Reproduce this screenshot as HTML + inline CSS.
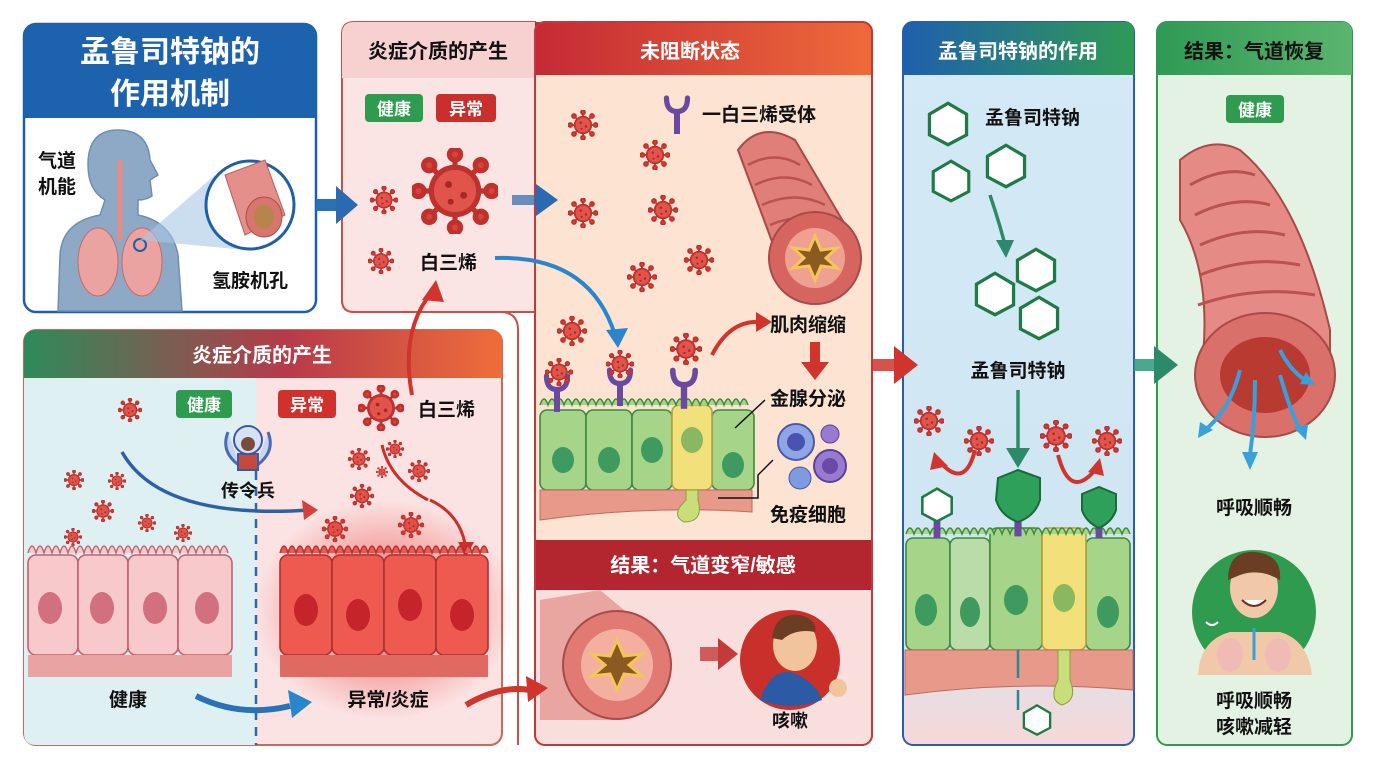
<!DOCTYPE html>
<html><head><meta charset="utf-8"><style>
html,body{margin:0;padding:0;background:#fff;}
svg{display:block;}
text{font-family:"Liberation Sans","Noto Sans CJK SC",sans-serif;font-weight:bold;}
</style></head><body>
<svg width="1376" height="768" viewBox="0 0 1376 768" xmlns="http://www.w3.org/2000/svg">
<defs>
<symbol id="v" viewBox="-20 -20 40 40">
<g stroke="#c0302c" stroke-width="2.4" fill="#d9433d">
<line x1="0" y1="-17" x2="0" y2="17"/><line x1="-17" y1="0" x2="17" y2="0"/>
<line x1="-12" y1="-12" x2="12" y2="12"/><line x1="-12" y1="12" x2="12" y2="-12"/>
<circle cx="0" cy="-17" r="2.6"/><circle cx="0" cy="17" r="2.6"/><circle cx="-17" cy="0" r="2.6"/><circle cx="17" cy="0" r="2.6"/>
<circle cx="-12" cy="-12" r="2.6"/><circle cx="12" cy="12" r="2.6"/><circle cx="-12" cy="12" r="2.6"/><circle cx="12" cy="-12" r="2.6"/>
<circle r="11" fill="#e0544c"/></g>
<circle cx="-3" cy="-3" r="1.6" fill="#a82824"/><circle cx="4" cy="2" r="1.6" fill="#a82824"/><circle cx="-2" cy="5" r="1.4" fill="#a82824"/>
</symbol>
<symbol id="hex" viewBox="-22 -22 44 44">
<polygon points="0,-19 17,-9 17,10 0,19 -17,10 -17,-9" fill="#fff" stroke="#1f7a45" stroke-width="3"/>
</symbol>
<symbol id="rec" viewBox="-20 -30 40 60">
<path d="M-14,-22 Q-14,-4 0,-4 Q14,-4 14,-22" fill="none" stroke="#6a4aa0" stroke-width="7" stroke-linecap="round"/>
<rect x="-4" y="-6" width="8" height="32" fill="#6a4aa0"/>
</symbol>
<linearGradient id="gC" x1="0" x2="1"><stop offset="0" stop-color="#c42a35"/><stop offset="1" stop-color="#ee6a3a"/></linearGradient>
<linearGradient id="gD" x1="0" x2="1"><stop offset="0" stop-color="#1f5fae"/><stop offset="1" stop-color="#2f9a55"/></linearGradient>
<linearGradient id="gE" x1="0" x2="1"><stop offset="0" stop-color="#2f9a55"/><stop offset="1" stop-color="#5ab56e"/></linearGradient>
<linearGradient id="gF" x1="0" x2="1"><stop offset="0" stop-color="#2d8b5a"/><stop offset="0.55" stop-color="#b73a4a"/><stop offset="1" stop-color="#ef6d3a"/></linearGradient>
<linearGradient id="gDb" x1="0" y1="0" x2="0" y2="1"><stop offset="0" stop-color="#d4e9f6"/><stop offset="0.8" stop-color="#cfe6f2"/><stop offset="1" stop-color="#f6d8d8"/></linearGradient>
<radialGradient id="glow"><stop offset="0" stop-color="#e8302a" stop-opacity="0.75"/><stop offset="1" stop-color="#e8302a" stop-opacity="0"/></radialGradient>
</defs>

<!-- Panel F bottom-left -->
<rect x="24" y="330" width="478" height="415" rx="12" fill="#fbe3e3" stroke="#c96a5a" stroke-width="2"/>
<path d="M36,378 H256 V745 H36 Q24,745 24,733 V378Z" fill="#dff0f2"/>
<path d="M36,330 H490 Q502,330 502,342 V378 H24 V342 Q24,330 36,330Z" fill="url(#gF)"/>
<text x="262" y="362" font-size="20" fill="#fff" text-anchor="middle">炎症介质的产生</text>
<line x1="256" y1="455" x2="256" y2="745" stroke="#2a6aa8" stroke-width="2.5" stroke-dasharray="9,7"/>
<rect x="176" y="390" width="56" height="28" rx="4" fill="#2e9b4f"/><text x="204" y="411" font-size="17" fill="#fff" text-anchor="middle">健康</text>
<rect x="278" y="390" width="58" height="28" rx="4" fill="#d0312d"/><text x="307" y="411" font-size="17" fill="#fff" text-anchor="middle">异常</text>
<use href="#v" x="358" y="385" width="46" height="46"/>
<text x="418" y="416" font-size="19" fill="#111">白三烯</text>
<g>
<use href="#v" x="118" y="398" width="24" height="24"/><use href="#v" x="64" y="470" width="20" height="20"/><use href="#v" x="108" y="472" width="18" height="18"/>
<use href="#v" x="92" y="500" width="22" height="22"/><use href="#v" x="138" y="514" width="18" height="18"/><use href="#v" x="64" y="528" width="18" height="18"/><use href="#v" x="174" y="524" width="18" height="18"/>
<use href="#v" x="348" y="448" width="22" height="22"/><use href="#v" x="386" y="440" width="18" height="18"/><use href="#v" x="408" y="460" width="22" height="22"/>
<use href="#v" x="350" y="484" width="24" height="24"/><use href="#v" x="376" y="466" width="12" height="12"/><use href="#v" x="322" y="516" width="26" height="26"/><use href="#v" x="398" y="512" width="26" height="26"/>
</g>
<path d="M228,432 q-8,20 12,34 M268,432 q8,20 -12,34" stroke="#4a6ab5" stroke-width="3" fill="#c9d6f2"/>
<circle cx="248" cy="440" r="14" fill="#d6e1f5" stroke="#3a5aa5" stroke-width="2"/>
<circle cx="248" cy="444" r="7" fill="#7a4a3a"/>
<rect x="238" y="454" width="20" height="16" fill="#c8483a" stroke="#3a5aa5" stroke-width="2"/>
<text x="248" y="497" font-size="18" fill="#111" text-anchor="middle">传令兵</text>
<path d="M122,452 Q160,520 310,510" fill="none" stroke="#2f5fa5" stroke-width="3.5"/>
<polygon points="318,510 302,500 304,520" fill="#d4403a"/>
<path d="M382,445 Q390,480 428,500 M430,500 Q462,515 466,550" fill="none" stroke="#c9302a" stroke-width="3"/>
<polygon points="466,557 458,542 474,542" fill="#c9302a"/>
<ellipse cx="385" cy="610" rx="130" ry="110" fill="url(#glow)"/>
<g fill="#f7c9cb" stroke="#c46070" stroke-width="1.6">
<rect x="28" y="555" width="50" height="100" rx="8"/><rect x="78" y="555" width="50" height="100" rx="8"/><rect x="128" y="555" width="50" height="100" rx="8"/><rect x="178" y="555" width="54" height="100" rx="8"/>
</g>
<g fill="#d27080"><ellipse cx="50" cy="608" rx="12" ry="16"/><ellipse cx="102" cy="608" rx="12" ry="16"/><ellipse cx="155" cy="608" rx="12" ry="16"/><ellipse cx="207" cy="608" rx="12" ry="16"/></g>
<rect x="28" y="655" width="204" height="22" fill="#e9a3a0"/>
<path d="M28,553 q4,-14 8,0 q4,-14 8,0 q4,-14 8,0 q4,-14 8,0 q4,-14 8,0 q4,-14 8,0 q4,-14 8,0 q4,-14 8,0 q4,-14 8,0 q4,-14 8,0 q4,-14 8,0 q4,-14 8,0 q4,-14 8,0 q4,-14 8,0 q4,-14 8,0 q4,-14 8,0 q4,-14 8,0 q4,-14 8,0 q4,-14 8,0 q4,-14 8,0 q4,-14 8,0 q4,-14 8,0 q4,-14 8,0 q4,-14 8,0 q4,-14 8,0" fill="#f7c9cb" stroke="#c46070" stroke-width="1.4"/>
<g fill="#ef5a50" stroke="#b02f30" stroke-width="1.6">
<rect x="280" y="555" width="52" height="100" rx="8"/><rect x="332" y="555" width="52" height="100" rx="8"/><rect x="384" y="555" width="52" height="100" rx="8"/><rect x="436" y="555" width="52" height="100" rx="8"/>
</g>
<g fill="#c4242a"><ellipse cx="306" cy="610" rx="12" ry="16"/><ellipse cx="358" cy="615" rx="12" ry="16"/><ellipse cx="410" cy="605" rx="12" ry="16"/><ellipse cx="462" cy="615" rx="12" ry="16"/></g>
<rect x="280" y="655" width="208" height="22" fill="#e06a62"/>
<path d="M280,553 q4,-14 8,0 q4,-14 8,0 q4,-14 8,0 q4,-14 8,0 q4,-14 8,0 q4,-14 8,0 q4,-14 8,0 q4,-14 8,0 q4,-14 8,0 q4,-14 8,0 q4,-14 8,0 q4,-14 8,0 q4,-14 8,0 q4,-14 8,0 q4,-14 8,0 q4,-14 8,0 q4,-14 8,0 q4,-14 8,0 q4,-14 8,0 q4,-14 8,0 q4,-14 8,0 q4,-14 8,0 q4,-14 8,0 q4,-14 8,0 q4,-14 8,0 q4,-14 8,0" fill="#ef5a50" stroke="#b02f30" stroke-width="1.4"/>
<text x="128" y="706" font-size="19" fill="#111" text-anchor="middle">健康</text>
<text x="388" y="706" font-size="19" fill="#111" text-anchor="middle">异常/炎症</text>
<path d="M196,696 Q240,718 290,706" fill="none" stroke="#2a72b8" stroke-width="6"/>
<polygon points="312,702 288,690 292,718" fill="#2a86cc"/>

<path d="M342,300 Q342,312 354,312 H500 Q518,312 518,330 V745" fill="none" stroke="#c9504a" stroke-width="2"/>
<!-- Panel A -->
<rect x="24" y="24" width="292" height="288" rx="12" fill="#fff" stroke="#1f5fa8" stroke-width="2.5"/>
<path d="M36,24 H304 Q316,24 316,36 V118 H24 V36 Q24,24 36,24Z" fill="#1d62ad"/>
<text x="170" y="62" font-size="30" fill="#fff" text-anchor="middle">孟鲁司特钠的</text>
<text x="170" y="104" font-size="30" fill="#fff" text-anchor="middle">作用机制</text>
<path d="M58,311 L60,255 Q62,222 100,215 L105,200 Q88,190 88,165 Q88,130 118,130 Q148,130 150,160 L158,175 L150,180 L152,196 Q146,200 138,200 L138,215 Q172,222 178,255 L182,311Z" fill="#8ea9c6" stroke="#6f8fb0" stroke-width="1.5"/>
<ellipse cx="98" cy="262" rx="20" ry="34" fill="#eaa3a0" stroke="#c56a6a"/>
<ellipse cx="142" cy="262" rx="20" ry="34" fill="#eaa3a0" stroke="#c56a6a"/>
<path d="M120,160 V240" stroke="#e58b88" stroke-width="5"/>
<circle cx="140" cy="245" r="6" fill="none" stroke="#1f5fa8" stroke-width="2"/>
<polygon points="140,240 215,175 245,250" fill="#a9c8e6" opacity="0.6"/>
<circle cx="250" cy="205" r="44" fill="#fff" stroke="#1f5fa8" stroke-width="3"/>
<path d="M225,175 L265,160 L285,215 L245,235Z" fill="#e48f8a" stroke="#b85d5a"/>
<ellipse cx="264" cy="217" rx="18" ry="20" fill="#d9756f" stroke="#a4504b"/>
<ellipse cx="264" cy="217" rx="10" ry="12" fill="#b7844a"/>
<text x="38" y="167" font-size="19" fill="#111">气道</text>
<text x="38" y="193" font-size="19" fill="#111">机能</text>
<text x="212" y="287" font-size="19" fill="#111">氢胺机孔</text>

<!-- Panel B -->
<path d="M354,22 H535 V312 H354 Q342,312 342,300 V34 Q342,22 354,22Z" fill="#fbe4e4" stroke="#c9504a" stroke-width="2"/>
<path d="M354,22 H535 V78 H342 V34 Q342,22 354,22Z" fill="#f7d0d0"/>
<text x="438" y="58" font-size="20" fill="#111" text-anchor="middle">炎症介质的产生</text>
<rect x="365" y="94" width="58" height="28" rx="4" fill="#2e9b4f"/><text x="394" y="115" font-size="17" fill="#fff" text-anchor="middle">健康</text>
<rect x="436" y="94" width="60" height="28" rx="4" fill="#c9302c"/><text x="466" y="115" font-size="17" fill="#fff" text-anchor="middle">异常</text>
<use href="#v" x="412" y="148" width="86" height="86"/>
<use href="#v" x="370" y="186" width="28" height="28"/>
<use href="#v" x="368" y="248" width="26" height="26"/>
<text x="420" y="269" font-size="19" fill="#111">白三烯</text>

<!-- Panel C -->
<rect x="535" y="22" width="337" height="723" rx="10" fill="#fde3d2" stroke="#c13a3a" stroke-width="2"/>
<path d="M535,22 H860 Q872,22 872,34 V75 H535Z" fill="url(#gC)"/>
<text x="690" y="58" font-size="20" fill="#fff" text-anchor="middle">未阻断状态</text>
<g>
<use href="#v" x="568" y="110" width="30" height="30"/><use href="#v" x="640" y="140" width="30" height="30"/><use href="#v" x="568" y="198" width="30" height="30"/>
<use href="#v" x="648" y="195" width="30" height="30"/><use href="#v" x="627" y="262" width="30" height="30"/><use href="#v" x="684" y="245" width="30" height="30"/>
<use href="#v" x="557" y="316" width="30" height="30"/><use href="#v" x="670" y="333" width="32" height="32"/>
</g>
<use href="#rec" x="662" y="92" width="30" height="45"/>
<text x="702" y="121" font-size="19" fill="#111">一白三烯受体</text>
<path d="M738,150 Q760,120 795,140 L860,250 Q830,300 790,290 Z" fill="#e07e78" stroke="#a84a48" stroke-width="2"/>
<g stroke="#b85350" stroke-width="2.5" fill="none"><path d="M748,165 Q775,150 800,165"/><path d="M755,185 Q785,170 812,185"/><path d="M762,205 Q795,190 825,205"/><path d="M770,225 Q805,210 840,225"/></g>
<circle cx="815" cy="258" r="46" fill="#d7655f" stroke="#a84a48" stroke-width="2"/>
<circle cx="815" cy="258" r="30" fill="#f0a090"/>
<polygon points="815,236 821,250 837,248 826,258 837,268 821,266 815,280 809,266 793,268 804,258 793,248 809,250" fill="#8a5a20" stroke="#f3c65a" stroke-width="3"/>
<g fill="#a6d58a" stroke="#3c8a3c" stroke-width="1.6">
<rect x="540" y="410" width="46" height="80" rx="7"/><rect x="586" y="410" width="46" height="80" rx="7"/><rect x="632" y="410" width="40" height="80" rx="7"/><rect x="712" y="410" width="42" height="80" rx="7"/>
</g>
<rect x="672" y="405" width="40" height="85" rx="7" fill="#f2e07a" stroke="#b7a23a" stroke-width="1.6"/>
<g fill="#3e9a5e"><ellipse cx="563" cy="460" rx="11" ry="13"/><ellipse cx="609" cy="460" rx="11" ry="13"/><ellipse cx="652" cy="450" rx="11" ry="13"/><ellipse cx="733" cy="465" rx="11" ry="13"/><ellipse cx="692" cy="440" rx="11" ry="13" fill="#8ab860"/></g>
<path d="M540,405 q4,-12 8,0 q4,-12 8,0 q4,-12 8,0 q4,-12 8,0 q4,-12 8,0 q4,-12 8,0 q4,-12 8,0 q4,-12 8,0 q4,-12 8,0 q4,-12 8,0 q4,-12 8,0 q4,-12 8,0 q4,-12 8,0 q4,-12 8,0 q4,-12 8,0 q4,-12 8,0 q4,-12 8,0 q4,-12 8,0 q4,-12 8,0 q4,-12 8,0 q4,-12 8,0 q4,-12 8,0 q4,-12 8,0 q4,-12 8,0 q4,-12 8,0 q4,-12 8,0" fill="#a6d58a" stroke="#3c8a3c" stroke-width="1.4"/>
<path d="M540,490 H752 V512 Q650,505 540,520Z" fill="#e79a8a" stroke="#c06a5a"/>
<path d="M686,490 V500 Q670,515 684,522 Q704,522 698,500 V490Z" fill="#c9de7a" stroke="#8aa03a"/>
<use href="#rec" x="542" y="370" width="30" height="45"/><use href="#rec" x="605" y="364" width="30" height="45"/><use href="#rec" x="668" y="364" width="32" height="48"/>
<use href="#v" x="545" y="358" width="28" height="28"/><use href="#v" x="606" y="350" width="28" height="28"/>
<path d="M712,355 Q730,320 760,322" fill="none" stroke="#d0342c" stroke-width="4"/><polygon points="772,322 756,312 756,332" fill="#d0342c"/>
<text x="770" y="331" font-size="19" fill="#111">肌肉缩缩</text>
<rect x="810" y="342" width="10" height="22" fill="#d0342c"/><polygon points="801,362 829,362 815,380" fill="#d0342c"/>
<text x="770" y="405" font-size="19" fill="#111">金腺分泌</text>
<line x1="765" y1="400" x2="735" y2="428" stroke="#111" stroke-width="1.5"/>
<circle cx="796" cy="442" r="18" fill="#8fa6e6" stroke="#4a5aa8" stroke-width="2"/><circle cx="796" cy="442" r="9" fill="#4a54b0"/>
<circle cx="830" cy="434" r="9" fill="#9a7ad0" stroke="#5a4098"/>
<circle cx="830" cy="466" r="16" fill="#9a7ad0" stroke="#5a4098" stroke-width="2"/><circle cx="830" cy="466" r="8" fill="#6a4aa8"/>
<circle cx="800" cy="478" r="11" fill="#7f9ade" stroke="#4a5aa8"/>
<path d="M773,460 L758,475 V498 H718" fill="none" stroke="#111" stroke-width="1.5"/>
<text x="770" y="521" font-size="19" fill="#111">免疫细胞</text>
<rect x="536" y="540" width="335" height="50" fill="#b3262f"/>
<rect x="536" y="590" width="335" height="154" fill="#f9dede"/>
<text x="703" y="572" font-size="20" fill="#fff" text-anchor="middle">结果：气道变窄/敏感</text>
<path d="M540,600 L600,590 L660,640 L620,720 L540,720Z" fill="#e28d86" opacity="0.7"/>
<circle cx="617" cy="665" r="54" fill="#e07a72" stroke="#a84a48" stroke-width="2"/>
<circle cx="617" cy="665" r="36" fill="#f3b0a0"/>
<polygon points="617,640 624,656 642,654 629,665 642,676 624,674 617,690 610,674 592,676 605,665 592,654 610,656" fill="#8a5a20" stroke="#f3c65a" stroke-width="3"/>
<rect x="700" y="647" width="20" height="14" fill="#c43a3a" opacity="0.8"/><polygon points="718,638 738,654 718,670" fill="#c43a3a"/>
<circle cx="790" cy="660" r="50" fill="#c9302c"/>
<path d="M760,700 Q770,670 790,672 Q815,680 822,700 Q790,712 760,700Z" fill="#2c5aa5"/>
<ellipse cx="795" cy="645" rx="22" ry="26" fill="#f2c49e"/>
<path d="M772,638 Q775,612 800,615 Q818,620 815,632 Q795,628 782,640Z" fill="#6b3e24"/>
<circle cx="838" cy="688" r="9" fill="#f2c49e"/>
<text x="790" y="727" font-size="18" fill="#111" text-anchor="middle">咳嗽</text>
<rect x="535" y="22" width="337" height="723" rx="10" fill="none" stroke="#c13a3a" stroke-width="2"/>

<!-- Panel D -->
<rect x="903" y="22" width="231" height="723" rx="10" fill="url(#gDb)" stroke="#2a5ea8" stroke-width="2"/>
<path d="M913,22 H1124 Q1134,22 1134,32 V75 H903 V32 Q903,22 913,22Z" fill="url(#gD)"/>
<text x="1018" y="58" font-size="20" fill="#fff" text-anchor="middle">孟鲁司特钠的作用</text>
<use href="#hex" x="924" y="100" width="48" height="48"/>
<text x="985" y="124" font-size="19" fill="#111">孟鲁司特钠</text>
<use href="#hex" x="928" y="158" width="46" height="46"/><use href="#hex" x="982" y="142" width="48" height="48"/>
<use href="#hex" x="1012" y="246" width="48" height="48"/><use href="#hex" x="971" y="270" width="48" height="48"/><use href="#hex" x="1015" y="294" width="48" height="48"/>
<path d="M990,195 Q1000,225 1005,245" fill="none" stroke="#2a8a6a" stroke-width="3.5"/><polygon points="1006,258 996,240 1014,240" fill="#2a8a6a"/>
<text x="1018" y="377" font-size="19" fill="#111" text-anchor="middle">孟鲁司特钠</text>
<line x1="1018" y1="390" x2="1018" y2="455" stroke="#2a8a6a" stroke-width="3.5"/><polygon points="1018,468 1006,448 1030,448" fill="#2a8a6a"/>
<use href="#v" x="914" y="406" width="30" height="30"/><use href="#v" x="964" y="426" width="30" height="30"/>
<use href="#v" x="1040" y="420" width="32" height="32"/><use href="#v" x="1092" y="426" width="30" height="30"/>
<path d="M975,450 Q965,490 940,462" fill="none" stroke="#d0342c" stroke-width="4"/><polygon points="934,452 930,470 948,466" fill="#d0342c"/>
<path d="M1058,455 Q1070,500 1095,470" fill="none" stroke="#d0342c" stroke-width="4"/><polygon points="1100,458 1088,472 1104,476" fill="#d0342c"/>
<g fill="#a6d58a" stroke="#3c8a3c" stroke-width="1.6">
<rect x="906" y="538" width="44" height="112" rx="7"/><rect x="950" y="538" width="40" height="112" rx="7" fill="#b9dca8"/><rect x="990" y="528" width="52" height="122" rx="7"/><rect x="1086" y="538" width="44" height="112" rx="7"/>
</g>
<rect x="1042" y="528" width="44" height="122" rx="7" fill="#f2e07a" stroke="#b7a23a" stroke-width="1.6"/>
<g fill="#3e9a5e"><ellipse cx="926" cy="610" rx="11" ry="16"/><ellipse cx="970" cy="612" rx="10" ry="15"/><ellipse cx="1016" cy="600" rx="12" ry="15"/><ellipse cx="1064" cy="598" rx="11" ry="14" fill="#8ab860"/><ellipse cx="1108" cy="612" rx="11" ry="16"/></g>
<path d="M906,534 q4,-12 8,0 q4,-12 8,0 q4,-12 8,0 q4,-12 8,0 q4,-12 8,0 q4,-12 8,0 q4,-12 8,0 q4,-12 8,0 q4,-12 8,0 q4,-12 8,0 q4,-12 8,0 q4,-12 8,0 q4,-12 8,0 q4,-12 8,0 q4,-12 8,0 q4,-12 8,0 q4,-12 8,0 q4,-12 8,0 q4,-12 8,0 q4,-12 8,0 q4,-12 8,0 q4,-12 8,0 q4,-12 8,0 q4,-12 8,0 q4,-12 8,0 q4,-12 8,0 q4,-12 8,0 q4,-12 8,0" fill="#a6d58a" stroke="#3c8a3c" stroke-width="1.4"/>
<path d="M905,650 H1133 V690 Q1020,680 905,695Z" fill="#e79a8a" stroke="#c06a5a"/>
<path d="M1058,650 V680 Q1048,700 1062,705 Q1078,700 1070,680 V650Z" fill="#c9de7a" stroke="#8aa03a"/>
<use href="#rec" x="920" y="490" width="34" height="52"/><use href="#rec" x="1000" y="486" width="36" height="54"/><use href="#rec" x="1082" y="490" width="34" height="52"/>
<use href="#hex" x="918" y="486" width="38" height="38"/>
<path d="M998,478 L1018,470 L1040,478 V500 Q1035,516 1018,522 Q1001,516 996,500Z" fill="#2fa05a" stroke="#1a6a3a" stroke-width="2"/>
<path d="M1082,494 L1099,487 L1116,494 V510 Q1112,522 1099,528 Q1086,522 1082,510Z" fill="#2fa05a" stroke="#1a6a3a" stroke-width="2"/>
<line x1="1018" y1="650" x2="1018" y2="678" stroke="#2a8a8a" stroke-width="2.5"/>
<line x1="1018" y1="710" x2="1018" y2="690" stroke="#2a8a8a" stroke-width="2.5"/>
<use href="#hex" x="1020" y="703" width="34" height="34"/>

<!-- Panel E -->
<rect x="1157" y="22" width="195" height="723" rx="10" fill="#e3f2e3" stroke="#2e9b4f" stroke-width="2"/>
<path d="M1167,22 H1342 Q1352,22 1352,32 V75 H1157 V32 Q1157,22 1167,22Z" fill="url(#gE)"/>
<text x="1254" y="58" font-size="20" fill="#111" text-anchor="middle">结果：气道恢复</text>
<rect x="1226" y="95" width="58" height="28" rx="4" fill="#2e9b4f"/><text x="1255" y="116" font-size="17" fill="#fff" text-anchor="middle">健康</text>
<path d="M1180,160 Q1210,135 1240,150 Q1300,200 1330,330 L1330,380 L1200,380 Q1215,280 1180,220Z" fill="#e58a84" stroke="#a84a48" stroke-width="2"/>
<g stroke="#b85350" stroke-width="3" fill="none"><path d="M1190,185 Q1225,165 1255,175"/><path d="M1195,215 Q1235,195 1270,205"/><path d="M1200,245 Q1245,225 1285,235"/><path d="M1200,275 Q1250,255 1300,265"/><path d="M1198,305 Q1255,285 1315,295"/></g>
<ellipse cx="1265" cy="375" rx="70" ry="62" fill="#d9706a" stroke="#a84a48" stroke-width="2"/>
<ellipse cx="1265" cy="375" rx="45" ry="38" fill="#b83a30"/>
<g stroke="#3aa0dc" stroke-width="4" fill="none"><path d="M1240,370 Q1230,410 1205,430"/><path d="M1255,380 Q1255,420 1250,455"/><path d="M1280,375 Q1290,410 1300,430"/><path d="M1280,350 Q1290,370 1305,380"/></g>
<g fill="#3aa0dc"><polygon points="1198,438 1200,422 1213,430"/><polygon points="1250,470 1242,452 1258,452"/><polygon points="1306,440 1294,428 1308,424"/><polygon points="1315,385 1300,384 1306,372"/></g>
<text x="1254" y="514" font-size="19" fill="#111" text-anchor="middle">呼吸顺畅</text>
<circle cx="1254" cy="612" r="62" fill="#2e9b4f"/>
<path d="M1198,675 Q1200,640 1230,632 H1280 Q1308,640 1312,675Z" fill="#f2c9a8"/>
<ellipse cx="1230" cy="655" rx="13" ry="17" fill="#f0b8b8" opacity="0.8"/><ellipse cx="1278" cy="655" rx="13" ry="17" fill="#f0b8b8" opacity="0.8"/>
<path d="M1254,628 V660" stroke="#3aa0dc" stroke-width="3"/>
<ellipse cx="1254" cy="588" rx="24" ry="30" fill="#f2c9a8"/>
<path d="M1228,580 Q1228,550 1256,552 Q1282,555 1280,580 Q1260,568 1240,575Z" fill="#6b3e24"/>
<path d="M1242,600 Q1254,612 1266,600" fill="#fff" stroke="#6b2e20" stroke-width="2"/>
<path d="M1206,622 q6,6 12,0" stroke="#fff" stroke-width="2" fill="none"/>
<text x="1254" y="707" font-size="19" fill="#111" text-anchor="middle">呼吸顺畅</text>
<text x="1254" y="733" font-size="19" fill="#111" text-anchor="middle">咳嗽减轻</text>

<!-- connectors on top -->
<path d="M316,205 H340" stroke="#2a72b8" stroke-width="12"/>
<polygon points="358,205 336,186 336,224" fill="#2a6ab0"/>
<path d="M512,200 H538" stroke="#2a6ab0" stroke-width="10" opacity="0.7"/>
<polygon points="558,200 536,184 536,216" fill="#2a6ab0"/>
<path d="M495,258 Q590,255 615,335" fill="none" stroke="#2a86cc" stroke-width="4"/>
<polygon points="618,348 606,330 628,328" fill="#2a86cc"/>
<path d="M412,395 Q400,330 432,292" fill="none" stroke="#d0342c" stroke-width="4"/>
<polygon points="436,280 422,300 444,302" fill="#d0342c"/>
<path d="M466,705 Q500,685 530,690" fill="none" stroke="#d0342c" stroke-width="6"/>
<polygon points="548,688 526,676 528,702" fill="#d0342c"/>
<path d="M872,365 H896" stroke="#d0342c" stroke-width="12" opacity="0.85"/>
<polygon points="918,365 894,346 894,384" fill="#d0342c"/>
<path d="M1134,365 H1156" stroke="#2a9a7a" stroke-width="12" opacity="0.85"/>
<polygon points="1178,365 1154,346 1154,384" fill="#2a8a6a"/>
</svg>
</body></html>
